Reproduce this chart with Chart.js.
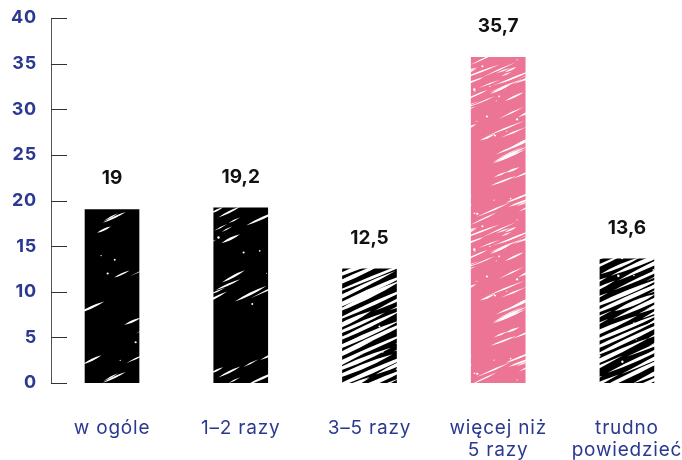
<!DOCTYPE html>
<html>
<head>
<meta charset="utf-8">
<script src="https://cdn.jsdelivr.net/npm/chart.js@4/dist/chart.umd.min.js"></script>
<style>
  html, body { margin: 0; padding: 0; background: #fff; }
  #wrap { width: 682px; height: 460px; }
</style>
</head>
<body>
<div id="wrap"><canvas id="c" width="682" height="460"></canvas></div>
<script>
// Categories (multi-line labels), values and axis ticks
const categories = [['w ogóle'], ['1–2 razy'], ['3–5 razy'], ['więcej niż', '5 razy'], ['trudno', 'powiedzieć']];
const values = [19, 19.2, 12.5, 35.7, 13.6];
const yTickValues = [0, 5, 10, 15, 20, 25, 30, 35, 40];

const NAVY = '#2B3990';
const PINK = '#EC7595';

// Small deterministic generator for the scribbled bar texture
function rng(seed) {
  let s = seed >>> 0;
  return () => { s = (s * 1664525 + 1013904223) >>> 0; return s / 4294967296; };
}

function streak(g, x, y, len, w, ang) {
  const dx = Math.cos(ang), dy = Math.sin(ang);
  const x1 = x + dx * len, y1 = y + dy * len;
  const mx = (x + x1) / 2, my = (y + y1) / 2;
  const nx = -dy * w, ny = dx * w;
  g.beginPath();
  g.moveTo(x, y);
  g.quadraticCurveTo(mx + nx, my + ny, x1, y1);
  g.quadraticCurveTo(mx - nx, my - ny, x, y);
  g.fill();
}

const TILE = 160;
const OFFS = [-TILE, 0, TILE];

function tileCanvas(base) {
  const cv = document.createElement('canvas');
  cv.width = cv.height = TILE;
  const g = cv.getContext('2d');
  g.fillStyle = base;
  g.fillRect(0, 0, TILE, TILE);
  g.fillStyle = '#fff';
  return [cv, g];
}

function wrapped(g, x, y, len, w, a) {
  for (const ox of OFFS) for (const oy of OFFS) streak(g, x + ox, y + oy, len, w, a);
}

function dots(g, r, n) {
  for (let i = 0; i < n; i++) {
    const x = r() * TILE, y = r() * TILE, rad = 0.5 + r() * 0.8;
    for (const ox of OFFS) for (const oy of OFFS) {
      g.beginPath(); g.arc(x + ox, y + oy, rad, 0, Math.PI * 2); g.fill();
    }
  }
}

// Loose scribble: scattered thin streaks
function scattered(base, o, seed) {
  const [cv, g] = tileCanvas(base);
  const r = rng(seed);
  for (let i = 0; i < o.count; i++) {
    const x = r() * TILE, y = r() * TILE;
    const len = o.minLen + r() * (o.maxLen - o.minLen);
    const w = o.minW + r() * (o.maxW - o.minW);
    wrapped(g, x, y, len, w, -(o.angle + (r() - 0.5) * 0.1));
  }
  dots(g, r, o.dots);
  return g.createPattern(cv, 'repeat');
}

// Dense scribble: near-parallel rows of long streaks
function rows(base, o, seed) {
  const [cv, g] = tileCanvas(base);
  const r = rng(seed);
  const slope = Math.tan(o.angle);
  const n = Math.round(TILE / o.spacing);
  const step = TILE / n;
  for (let k = 0; k < n; k++) {
    const y0 = k * step + (r() - 0.5) * 2;
    let x = r() * 10;
    while (x < TILE) {
      const len = o.minLen + r() * (o.maxLen - o.minLen);
      const w = o.minW + r() * (o.maxW - o.minW);
      const y = (((y0 - x * slope) % TILE) + TILE) % TILE;
      wrapped(g, x, y, len, w, -o.angle + (r() - 0.5) * 0.07);
      x += len * Math.cos(o.angle) + 1 + r() * 5;
    }
  }
  dots(g, r, o.dots);
  return g.createPattern(cv, 'repeat');
}

const sparse = { count: 26, minLen: 12, maxLen: 40, minW: 1, maxW: 2.6, angle: 0.45, dots: 14 };
const pinkStyle = { count: 100, minLen: 10, maxLen: 45, minW: 0.9, maxW: 2.2, angle: 0.4, dots: 55 };
const dense = { spacing: 7.3, minLen: 40, maxLen: 110, minW: 3, maxW: 4.8, angle: 0.42, dots: 35 };

const fills = [
  scattered('#000', sparse, 11),
  scattered('#000', sparse, 29),
  rows('#000', dense, 7),
  scattered(PINK, pinkStyle, 5),
  rows('#000', dense, 43)
];

// Short inward tick marks on the value axis
const innerTicks = {
  id: 'innerTicks',
  afterDraw(chart) {
    const y = chart.scales.y, ctx = chart.ctx;
    const left = chart.chartArea.left;
    ctx.save();
    ctx.strokeStyle = '#333';
    ctx.lineWidth = 1;
    y.ticks.forEach(t => {
      const py = Math.round(y.getPixelForValue(t.value)) + 0.5;
      ctx.beginPath();
      ctx.moveTo(left, py);
      ctx.lineTo(left + 16, py);
      ctx.stroke();
    });
    ctx.restore();
  }
};

// Slightly open tracking for the category labels
const spacing = {
  id: 'spacing',
  beforeDraw(chart) { chart.ctx.letterSpacing = '0.8px'; },
  afterDraw(chart) { chart.ctx.letterSpacing = '0px'; }
};

// Value labels above each bar
const valueLabels = {
  id: 'valueLabels',
  afterDatasetsDraw(chart) {
    const ctx = chart.ctx;
    const meta = chart.getDatasetMeta(0);
    ctx.save();
    ctx.letterSpacing = '0px';
    ctx.fillStyle = '#111';
    ctx.font = 'bold 19px Inter';
    ctx.textAlign = 'center';
    ctx.textBaseline = 'middle';
    meta.data.forEach((el, i) => {
      ctx.fillText(String(values[i]).replace('.', ','), el.x, el.y - 31);
    });
    ctx.restore();
  }
};

new Chart(document.getElementById('c'), {
  type: 'bar',
  data: {
    datasets: [{
      data: values.map((v, i) => ({ x: i, y: v })),
      backgroundColor: fills,
      borderWidth: 0,
      barThickness: 54
    }]
  },
  options: {
    responsive: false,
    animation: false,
    devicePixelRatio: 1,
    layout: { padding: { top: 18, right: 10, left: 0, bottom: 0 } },
    plugins: { legend: { display: false }, tooltip: { enabled: false } },
    scales: {
      x: {
        type: 'linear',
        offset: false,
        min: -0.474,
        max: 4.35,
        grid: { display: false, drawTicks: false },
        border: { display: false },
        afterBuildTicks: s => { s.ticks = categories.map((_, i) => ({ value: i })); },
        afterFit: s => { s.height = 77; s.paddingLeft = 0; s.paddingRight = 0; },
        ticks: {
          autoSkip: false,
          maxRotation: 0,
          padding: 34,
          color: NAVY,
          font: { family: 'Inter', size: 19, lineHeight: '22px' },
          callback: v => categories[v]
        }
      },
      y: {
        min: 0,
        max: 40,
        grid: { display: false, drawTicks: false },
        border: { display: true, color: '#555', width: 1 },
        afterBuildTicks: s => { s.ticks = yTickValues.map(v => ({ value: v })); },
        afterFit: s => { s.width = 51; s.paddingTop = 0; s.paddingBottom = 0; },
        ticks: {
          padding: 14,
          color: NAVY,
          font: { family: 'Inter', size: 18, weight: 'bold' }
        }
      }
    }
  },
  plugins: [spacing, innerTicks, valueLabels]
});
</script>
</body>
</html>
